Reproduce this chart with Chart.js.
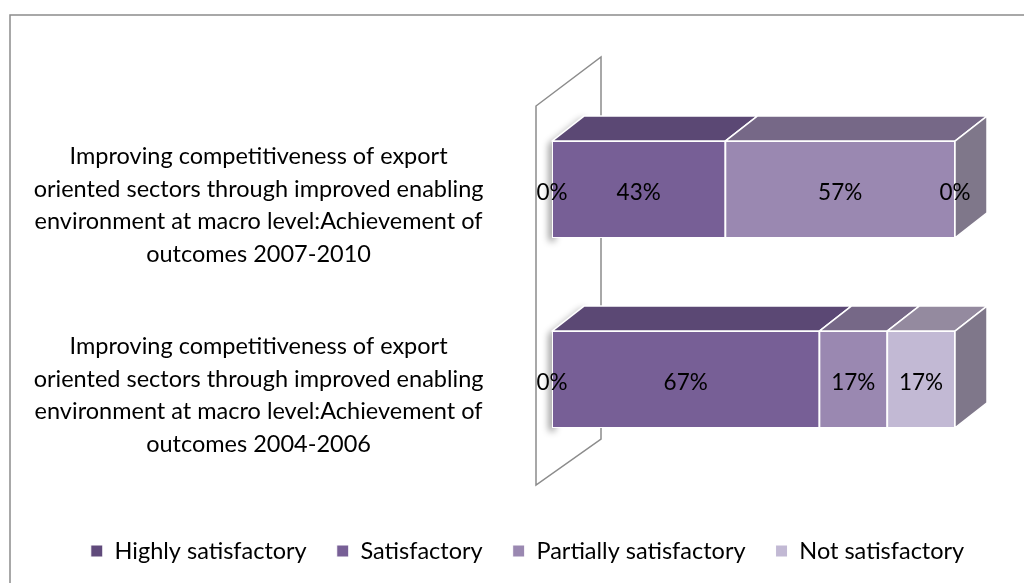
<!DOCTYPE html>
<html>
<head>
<meta charset="utf-8">
<script src="https://cdn.jsdelivr.net/npm/chart.js@4.4.1/dist/chart.umd.min.js"></script>
<style>
  html, body { margin: 0; padding: 0; background: #ffffff; }
  #wrap { width: 1024px; height: 583px; position: relative; }
</style>
</head>
<body>
<div id="wrap"><canvas id="chart" width="1024" height="583"></canvas></div>
<script>
// Category labels, already wrapped into lines
const categories = [
  ["Improving competitiveness of export", "oriented sectors through improved enabling", "environment at macro level:Achievement of", "outcomes 2007-2010"],
  ["Improving competitiveness of export", "oriented sectors through improved enabling", "environment at macro level:Achievement of", "outcomes 2004-2006"]
];
const seriesNames = ["Highly satisfactory", "Satisfactory", "Partially satisfactory", "Not satisfactory"];
// Percentages per rating, one entry per category (top to bottom)
const highlySatisfactory = [0, 0];
const satisfactory = [43, 67];
const partiallySatisfactory = [57, 17];
const notSatisfactory = [0, 17];

const seriesValues = [highlySatisfactory, satisfactory, partiallySatisfactory, notSatisfactory];
const frontColors = ["#604a7b", "#775f96", "#9a88b1", "#c2b9d4"];
const topColors = ["#4e3c66", "#5b4874", "#766887", "#948a9f"];
const sideColor = "#7f778a";

// 100% stacking: each bar is scaled by its own total
const totals = categories.map((_, i) => seriesValues.reduce((s, arr) => s + arr[i], 0));
const datasets = seriesNames.map((name, k) => ({
  label: name,
  data: seriesValues[k].map((v, i) => v / totals[i] * 100),
  rawValues: seriesValues[k],
  backgroundColor: frontColors[k],
  borderColor: "#ffffff",
  borderWidth: 1,
  borderSkipped: false
}));

const FONT = "Lato";
const DEPTH_X = 32, DEPTH_Y = 25;

// Frame around the whole figure
const framePlugin = {
  id: "frame",
  beforeDraw(chart) {
    const ctx = chart.ctx;
    ctx.save();
    ctx.strokeStyle = "#8c8c8c";
    ctx.lineWidth = 1.5;
    ctx.strokeRect(10, 15, 1040, 600);
    ctx.restore();
  }
};

// Shift the legend row so it sits centred under the whole figure
const legendShiftPlugin = {
  id: "legendShift",
  afterLayout(chart) {
    const lg = chart.legend;
    if (lg) { lg.left += 50; lg.right += 50; }
  }
};

// Back wall of the 3-D plot and soft shadows, drawn behind the bars
const wallPlugin = {
  id: "wall",
  beforeDatasetsDraw(chart) {
    const { ctx, chartArea: a } = chart;
    const x0 = a.left - 16, x1 = a.left + 49;
    const pts = [[x0, a.top + 11.5], [x1, a.top - 37.5], [x1, a.bottom - 35.5], [x0, a.bottom + 10.5]];
    ctx.save();
    ctx.strokeStyle = "#8c8c8c";
    ctx.lineWidth = 1.5;
    ctx.beginPath();
    ctx.moveTo(pts[0][0], pts[0][1]);
    for (let i = 1; i < pts.length; i++) ctx.lineTo(pts[i][0], pts[i][1]);
    ctx.closePath();
    ctx.stroke();
    ctx.restore();

    // short shadow at the left end of each box
    const meta = chart.getDatasetMeta(0);
    ctx.save();
    ctx.shadowColor = "rgba(0,0,0,0.45)";
    ctx.shadowBlur = 7;
    ctx.shadowOffsetX = -3;
    ctx.shadowOffsetY = 3;
    ctx.fillStyle = "#ffffff";
    meta.data.forEach((el) => {
      const left = Math.min(el.x, el.base);
      const top = el.y - el.height / 2, bottom = el.y + el.height / 2;
      ctx.beginPath();
      ctx.moveTo(left + 6, bottom);
      ctx.lineTo(left, bottom);
      ctx.lineTo(left, top);
      ctx.lineTo(left + DEPTH_X, top - DEPTH_Y);
      ctx.lineTo(left + DEPTH_X + 6, top - DEPTH_Y);
      ctx.lineTo(left + 6, top);
      ctx.closePath();
      ctx.fill();
    });
    ctx.restore();
  }
};

// Top faces of the stacked boxes, the end face, and value labels
const boxPlugin = {
  id: "boxes",
  afterDatasetsDraw(chart) {
    const ctx = chart.ctx;
    const n = chart.data.datasets.length;
    ctx.save();
    ctx.lineWidth = 1.5;
    ctx.strokeStyle = "#ffffff";
    ctx.lineJoin = "round";
    chart.data.datasets.forEach((ds, k) => {
      const meta = chart.getDatasetMeta(k);
      meta.data.forEach((el) => {
        const left = Math.min(el.x, el.base), right = Math.max(el.x, el.base);
        const top = el.y - el.height / 2;
        if (right - left > 0.5) {
          ctx.fillStyle = topColors[k];
          ctx.beginPath();
          ctx.moveTo(left, top);
          ctx.lineTo(left + DEPTH_X, top - DEPTH_Y);
          ctx.lineTo(right + DEPTH_X, top - DEPTH_Y);
          ctx.lineTo(right, top);
          ctx.closePath();
          ctx.fill();
          ctx.stroke();
        }
      });
    });
    // end face at the right of each stack
    const last = chart.getDatasetMeta(n - 1);
    last.data.forEach((el) => {
      const right = Math.max(el.x, el.base);
      const top = el.y - el.height / 2, bottom = el.y + el.height / 2;
      ctx.fillStyle = sideColor;
      ctx.beginPath();
      ctx.moveTo(right, top);
      ctx.lineTo(right + DEPTH_X, top - DEPTH_Y);
      ctx.lineTo(right + DEPTH_X, bottom - DEPTH_Y);
      ctx.lineTo(right, bottom);
      ctx.closePath();
      ctx.fill();
      ctx.stroke();
    });
    // value labels
    ctx.fillStyle = "#000000";
    ctx.font = "22.5px " + FONT;
    ctx.textAlign = "center";
    ctx.textBaseline = "middle";
    chart.data.datasets.forEach((ds, k) => {
      const meta = chart.getDatasetMeta(k);
      meta.data.forEach((el, i) => {
        const cx = (el.x + el.base) / 2;
        ctx.fillText(ds.rawValues[i] + "%", cx, el.y + 3);
      });
    });
    ctx.restore();
  }
};

new Chart(document.getElementById("chart"), {
  type: "bar",
  data: { labels: categories, datasets },
  options: {
    indexAxis: "y",
    responsive: false,
    animation: false,
    events: [],
    layout: { padding: { left: 0, right: 69, top: 94.5, bottom: 10.25 } },
    datasets: { bar: { categoryPercentage: 1, barPercentage: 0.51 } },
    scales: {
      x: {
        stacked: true, min: 0, max: 100,
        grid: { display: false }, border: { display: false },
        ticks: { display: false },
        afterFit(scale) { scale.height = 34.75; scale.paddingLeft = 0; scale.paddingRight = 0; }
      },
      y: {
        stacked: true,
        grid: { display: false }, border: { display: false },
        ticks: {
          color: "#000000",
          font: { family: FONT, size: 23.5, lineHeight: 1.383 },
          crossAlign: "center",
          padding: 60.5,
          labelOffset: 16
        },
        afterFit(scale) { scale.width = 552; scale.paddingTop = 0; scale.paddingBottom = 0; }
      }
    },
    plugins: {
      legend: {
        position: "bottom",
        labels: {
          color: "#000000",
          font: { family: FONT, size: 23.5 },
          boxWidth: 12, boxHeight: 12,
          padding: 30
        }
      },
      tooltip: { enabled: false }
    }
  },
  plugins: [framePlugin, legendShiftPlugin, wallPlugin, boxPlugin]
});
</script>
</body>
</html>
